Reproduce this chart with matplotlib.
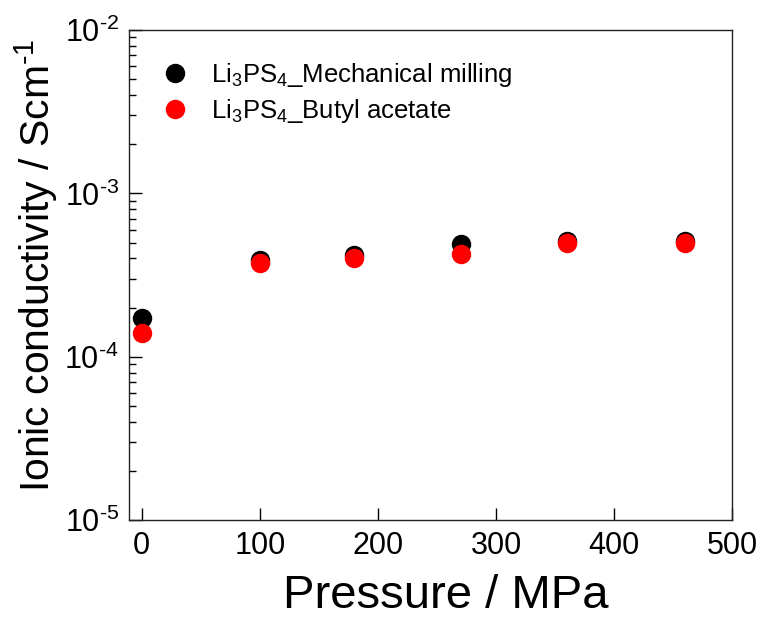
import matplotlib
matplotlib.use("Agg")
import matplotlib.pyplot as plt
from matplotlib.ticker import LogLocator, FixedLocator, NullFormatter

plt.rcParams['font.family'] = ['Liberation Sans', 'DejaVu Sans']
plt.rcParams['mathtext.fontset'] = 'custom'
plt.rcParams['mathtext.rm'] = 'Liberation Sans'
plt.rcParams['mathtext.it'] = 'Liberation Sans'
plt.rcParams['mathtext.bf'] = 'Liberation Sans'

# Pressure (MPa) and ionic conductivity (S/cm)
pressure = [0, 100, 180, 270, 360, 460]
sigma_milling = [1.73e-4, 3.9e-4, 4.2e-4, 4.93e-4, 5.1e-4, 5.09e-4]
sigma_butyl = [1.39e-4, 3.72e-4, 4.03e-4, 4.27e-4, 5.0e-4, 4.94e-4]

label_milling = r'Li$_3$PS$_4$_Mechanical milling'
label_butyl = r'Li$_3$PS$_4$_Butyl acetate'

x_ticks = [0, 100, 200, 300, 400, 500]
y_ticks = [1e-5, 1e-4, 1e-3, 1e-2]
y_tick_labels = [r'$10^{\text{-}5}$', r'$10^{\text{-}4}$',
                 r'$10^{\text{-}3}$', r'$10^{\text{-}2}$']

fig = plt.figure(figsize=(7.71, 6.19), dpi=100)
ax = fig.add_axes([0.1669, 0.1599, 0.9498 - 0.1669, 0.9515 - 0.1599])

ax.plot(pressure, sigma_milling, 'o', color='black', markersize=14,
        markeredgewidth=0, label=label_milling)
ax.plot(pressure, sigma_butyl, 'o', color='#ff0000', markersize=14,
        markeredgewidth=0, label=label_butyl)

ax.set_yscale('log')
ax.set_xlim(-11, 500)
ax.set_ylim(1e-5, 1e-2)

ax.xaxis.set_major_locator(FixedLocator(x_ticks))
ax.set_xticklabels([str(t) for t in x_ticks])
ax.yaxis.set_major_locator(FixedLocator(y_ticks))
ax.set_yticklabels(y_tick_labels)
ax.yaxis.set_minor_locator(LogLocator(base=10, subs=range(2, 10)))
ax.yaxis.set_minor_formatter(NullFormatter())

ax.tick_params(axis='both', which='major', direction='in', length=9, width=1.0,
               labelsize=22, top=False, right=False)
ax.tick_params(axis='x', which='major', pad=8)
ax.tick_params(axis='y', which='major', pad=7)
ax.tick_params(axis='y', which='minor', direction='in', length=5, width=1.0,
               right=False)
ax.tick_params(axis='x', which='minor', bottom=False, top=False)

for sp in ax.spines.values():
    sp.set_linewidth(1.0)
    sp.set_color('#222222')

ax.set_xlabel('Pressure / MPa', fontsize=34, labelpad=9)
ax.xaxis.label.set_x(0.526)
ax.set_ylabel(r'Ionic conductivity / Scm$^{\text{-}1}$', fontsize=29.4, labelpad=3)
ax.yaxis.label.set_y(0.52)

ax.legend(loc='upper left', bbox_to_anchor=(0.008, 0.99), frameon=False,
          fontsize=18.5, handletextpad=0.8, labelspacing=0.33,
          handlelength=1.2, borderaxespad=0.6)

fig.savefig('out.png', dpi=100)
